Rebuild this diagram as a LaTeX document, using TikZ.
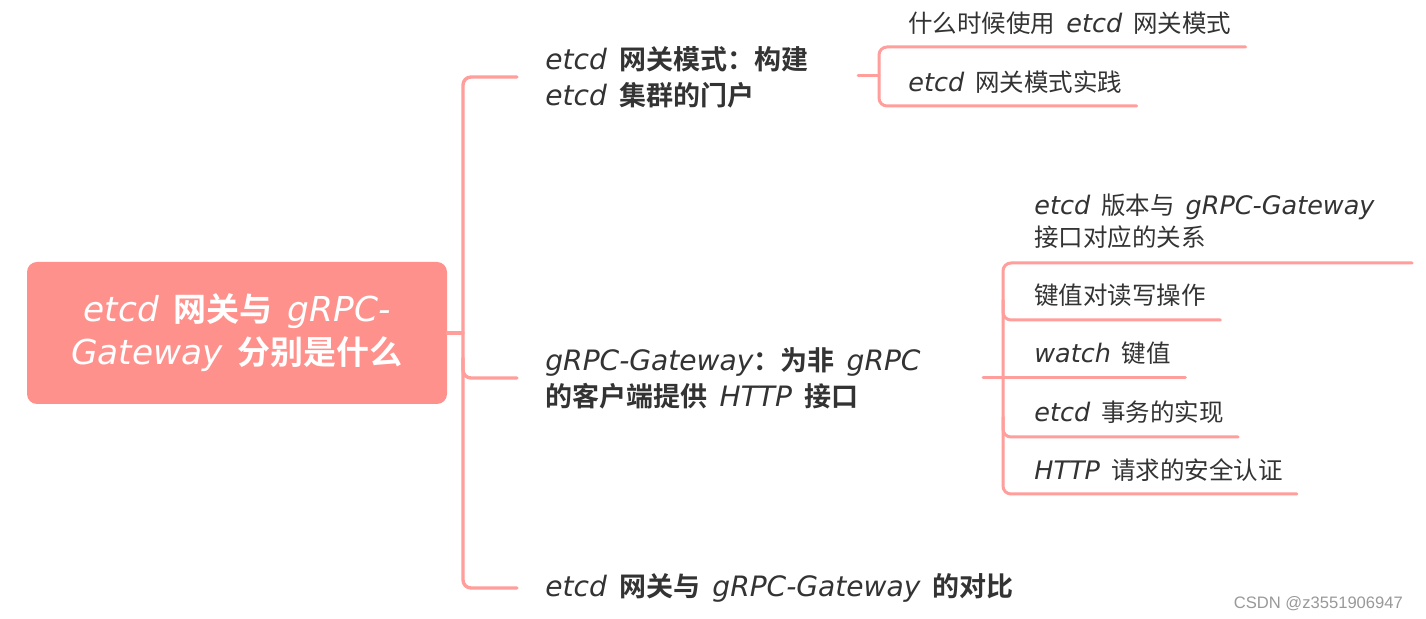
\documentclass[tikz,border=0pt]{standalone}
\usepackage{fontspec}
\setmainfont{Noto Sans CJK SC}[BoldFont=* Bold, WordSpace=2.0]
\newfontfamily\enfont{DejaVu Sans}[Scale=1.04]
\newfontfamily\markfont{Liberation Sans}
\usepackage{tikz}
\usetikzlibrary{calc}
\definecolor{MapRed}{RGB}{255, 145, 141}
\definecolor{MapLine}{RGB}{255, 158, 155}
\definecolor{MapText}{RGB}{51, 51, 51}
\newcommand{\en}[1]{{\enfont\mdseries\itshape #1}}
\tikzset{every path/.style={line cap=round, line join=round},
    rootbox/.style={fill=MapRed, rounded corners=5pt, minimum width=210pt, minimum height=71pt, text=white, align=center, font=\fontsize{16.5}{21.5}\selectfont\bfseries},
    topic/.style={anchor=west, inner xsep=14pt, align=left, text=MapText, font=\fontsize{13.5}{18}\selectfont\bfseries},
    subtopic/.style={anchor=west, inner xsep=7pt, align=left, text=MapText, font=\fontsize{12.25}{16}\selectfont},
    branch/.style={draw=MapLine, line width=1.7pt, rounded corners=4pt},
    twig/.style={draw=MapLine, line width=1.5pt, rounded corners=4pt}}

\begin{document}
\begin{tikzpicture}[x=0.5pt, y=-0.5pt]
    \fill [white] (0,0) rectangle (1426,619);
    \useasboundingbox (0,0) rectangle (1426,619);

    % root and main topics
    \node [rootbox] (root) at (237,333) {\en{etcd} 网关与 \en{gRPC-}\\\en{Gateway} 分别是什么};
    \node [topic] (mode) at (517,77) {\en{etcd} 网关模式：构建\\\en{etcd} 集群的门户};
    \node [topic] (gw) at (517,378) {\en{gRPC-Gateway}：为非 \en{gRPC}\\的客户端提供 \en{HTTP} 接口};
    \node [topic] (cmp) at (517,588) {\en{etcd} 网关与 \en{gRPC-Gateway} 的对比};

    \coordinate (spine) at (463,333);
    \draw [branch] (root.east) -- (spine);
    \draw [branch] (mode.west) -| (spine) |- (cmp.west);
    \draw [branch] ($(spine)+(0,25)$) |- (gw.west);

    % gateway mode
    \node [subtopic] (when) at (894,23) {什么时候使用 \en{etcd} 网关模式};
    \node [subtopic] (prac) at (894,82) {\en{etcd} 网关模式实践};
    \coordinate (j1) at (858,76);
    \coordinate (s1) at (879,76);
    \draw [twig] (j1) -- (s1);
    \draw [twig] ($(when.east)+(0,24)$) -| (s1) |- ($(prac.east)+(0,24)$);

    % grpc-gateway
    \node [subtopic] (ver) at (1020,221) {\en{etcd} 版本与 \en{gRPC-Gateway}\\接口对应的关系};
    \node [subtopic] (kv) at (1020,295) {键值对读写操作};
    \node [subtopic] (watch) at (1020,353) {\en{watch} 键值};
    \node [subtopic] (txn) at (1020,412) {\en{etcd} 事务的实现};
    \node [subtopic] (auth) at (1020,470) {\en{HTTP} 请求的安全认证};
    \coordinate (j2) at (983,378);
    \coordinate (s2) at (1003,378);
    \coordinate (verend) at (1412,263);
    \draw [twig] (j2) -- ($(watch.east)+(0,25)$);
    \draw [twig] (verend) -| (s2) |- ($(auth.east)+(0,24)$);
    \draw [twig] ($(s2)+(0,-78)$) |- ($(kv.east)+(0,25)$);
    \draw [twig] ($(s2)+(0,39)$) |- ($(txn.east)+(0,25)$);

    \node [anchor=east, text=black!40, font=\markfont\fontsize{8.3}{10}\selectfont] (mark) at (1410,604) {CSDN @z3551906947};
\end{tikzpicture}
\end{document}
